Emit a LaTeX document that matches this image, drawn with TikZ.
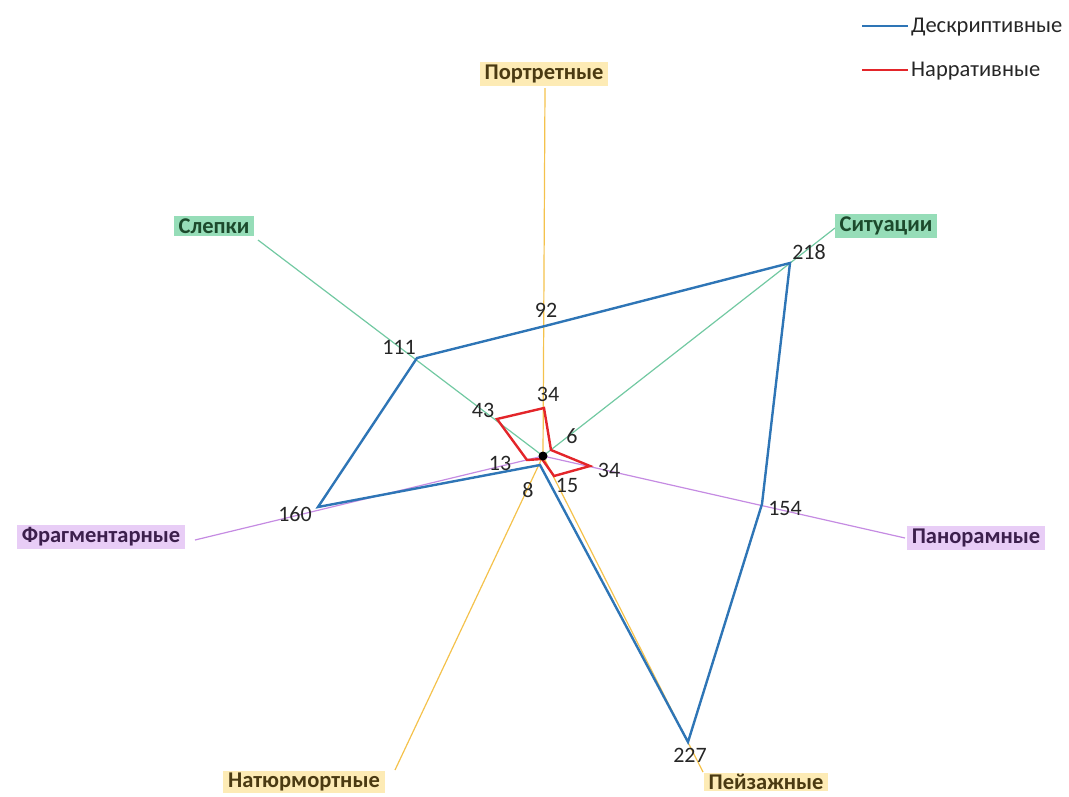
\documentclass[tikz,border=0pt]{standalone}
\usepackage{fontspec}
\setmainfont{Carlito}
\begin{document}
\begin{tikzpicture}[x=1pt,y=-1pt,
  axisY/.style={draw=axY,line width=1.2pt},
  axisG/.style={draw=axG,line width=1.2pt},
  axisP/.style={draw=axP,line width=1.2pt},
  labY/.style={fill=boxY,text=txtY,font=\fontsize{22.5}{25}\selectfont\bfseries,inner xsep=5pt,inner ysep=3pt},
  labG/.style={fill=boxG,text=txtG,font=\fontsize{22.5}{25}\selectfont\bfseries,inner xsep=5pt,inner ysep=3pt},
  labP/.style={fill=boxP,text=txtP,font=\fontsize{22.5}{25}\selectfont\bfseries,inner xsep=5pt,inner ysep=3pt},
  val/.style={font=\fontsize{22}{25}\selectfont,text=black!85,inner sep=0pt},
  desc/.style={draw=serB,line width=2.4pt,line join=miter},
  narr/.style={draw=serR,line width=2.4pt,line join=miter},
  legtxt/.style={font=\fontsize{22.5}{25}\selectfont,text=black!85,anchor=west,inner sep=0pt}
]
\definecolor{axY}{HTML}{F4C24C}
\definecolor{axG}{HTML}{72C9A2}
\definecolor{axP}{HTML}{C58BE2}
\definecolor{boxY}{HTML}{FDEBB5}
\definecolor{boxG}{HTML}{96DDB8}
\definecolor{boxP}{HTML}{E8CDF6}
\definecolor{txtY}{HTML}{4A3A12}
\definecolor{txtG}{HTML}{1C4A2C}
\definecolor{txtP}{HTML}{3C1F4C}
\definecolor{serB}{HTML}{2E75B6}
\definecolor{serR}{HTML}{E3252A}
\useasboundingbox (0,0) rectangle (1069,796);
% centre and axis ends
\coordinate (O) at (543,456);
\coordinate (ePor) at (545,88);
\coordinate (eSit) at (835,228);
\coordinate (ePan) at (905,538);
\coordinate (ePei) at (703,772);
\coordinate (eNat) at (395,770);
\coordinate (eFra) at (195,540);
\coordinate (eSle) at (258,240);
% axes
\draw[axisY] (O) -- (ePor);
\draw[axisG] (O) -- (eSit);
\draw[axisP] (O) -- (ePan);
\draw[axisY] (O) -- (ePei);
\draw[axisY] (O) -- (eNat);
\draw[axisP] (O) -- (eFra);
\draw[axisG] (O) -- (eSle);
% category labels
\node[labY] (lPor) at (544,74) {Портретные};
\node[labG] (lSit) at (886,226) {Ситуации};
\node[labP] (lPan) at (976,538) {Панорамные};
\node[labY,inner ysep=1.5pt] (lPei) at (766,782) {Пейзажные};
\node[labY,inner ysep=1.5pt] (lNat) at (304,782) {Натюрмортные};
\node[labP] (lFra) at (101,537) {Фрагментарные};
\node[labG] (lSle) at (214,226) {Слепки};
% descriptive series
\coordinate (bPor) at (545,326);
\coordinate (bSit) at (790,263);
\coordinate (bPan) at (762,504);
\coordinate (bPei) at (688,742);
\coordinate (bNat) at (540,465);
\coordinate (bFra) at (318,507);
\coordinate (bSle) at (417,358);
\draw[desc] (bPor) -- (bSit) -- (bPan) -- (bPei) -- (bNat) -- (bFra) -- (bSle) -- cycle;
% narrative series
\coordinate (rPor) at (544,408);
\coordinate (rSit) at (551,450);
\coordinate (rPan) at (590,466);
\coordinate (rPei) at (554,476);
\coordinate (rNat) at (542,459);
\coordinate (rFra) at (527,460);
\coordinate (rSle) at (497,419);
\draw[narr] (rPor) -- (rSit) -- (rPan) -- (rPei) -- (rNat) -- (rFra) -- (rSle) -- cycle;
\fill[black] (O) circle (4.5pt);
% value labels
\node[val] (v92) at (546,310) {92};
\node[val] (v218) at (809,252) {218};
\node[val] (v154) at (785,508) {154};
\node[val] (v227) at (690,755) {227};
\node[val] (v8) at (528,490) {8};
\node[val] (v160) at (295,514) {160};
\node[val] (v111) at (399,347) {111};
\node[val] (v34a) at (548,394) {34};
\node[val] (v6) at (572,436) {6};
\node[val] (v34b) at (609,470) {34};
\node[val] (v15) at (567,485) {15};
\node[val] (v13) at (500,463) {13};
\node[val] (v43) at (483,410) {43};
% legend
\coordinate (lb1) at (862,26);
\coordinate (lb2) at (908,26);
\coordinate (lr1) at (862,70);
\coordinate (lr2) at (908,70);
\draw[serB,line width=2pt] (lb1) -- (lb2);
\draw[serR,line width=2pt] (lr1) -- (lr2);
\node[legtxt] (legB) at (911,27) {Дескриптивные};
\node[legtxt] (legR) at (911,71) {Нарративные};
\end{tikzpicture}
\end{document}
